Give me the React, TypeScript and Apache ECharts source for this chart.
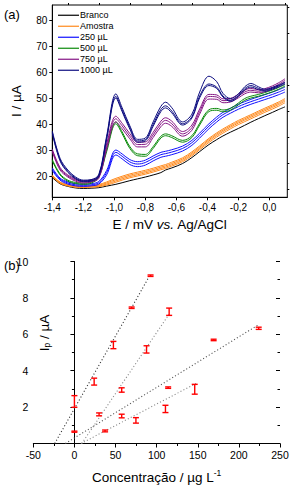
import React, { useEffect, useRef } from 'react';
import * as echarts from 'echarts';

// ---------- Panel (a): voltammograms ----------
const potentials = [-1.4, -1.35, -1.3, -1.25, -1.2, -1.15, -1.1, -1.05, -0.99, -0.95, -0.9, -0.85, -0.8, -0.75, -0.7, -0.67, -0.63, -0.56, -0.5, -0.45, -0.39, -0.34, -0.3, -0.25, -0.2, -0.16, -0.12, -0.07, -0.03, 0.02, 0.06, 0.1];

const branco = [19.6, 17.2, 16.2, 15.6, 15.4, 15.5, 15.7, 16.3, 17.0, 17.6, 18.4, 19.1, 19.8, 20.6, 21.5, 22.5, 23.3, 25.0, 27.3, 29.6, 32.3, 34.2, 35.6, 37.1, 38.5, 39.7, 40.9, 42.3, 43.4, 44.7, 45.8, 46.8];

const amostra1 = [20.0, 17.4, 16.4, 15.9, 15.8, 15.9, 16.1, 16.7, 17.8, 18.6, 19.5, 20.2, 20.9, 21.7, 22.6, 23.1, 24.0, 25.7, 28.0, 30.3, 33.1, 35.2, 36.7, 38.4, 40.0, 41.1, 42.2, 43.6, 44.7, 46.0, 47.1, 48.4];
const amostra2 = [20.1, 17.5, 16.5, 16.0, 15.9, 16.0, 16.3, 17.1, 18.3, 19.1, 20.0, 20.7, 21.4, 22.2, 23.1, 23.6, 24.5, 26.2, 28.5, 30.8, 33.7, 35.8, 37.3, 39.0, 40.6, 41.7, 42.8, 44.2, 45.3, 46.6, 47.7, 49.0];
const amostra3 = [20.3, 17.7, 16.7, 16.2, 16.1, 16.2, 16.6, 17.5, 18.8, 19.6, 20.5, 21.2, 21.9, 22.7, 23.6, 24.1, 25.0, 26.7, 29.0, 31.3, 34.2, 36.3, 37.8, 39.5, 41.1, 42.2, 43.3, 44.7, 45.8, 47.1, 48.2, 49.5];
const amostra4 = [20.5, 17.9, 16.9, 16.4, 16.3, 16.4, 16.9, 17.9, 19.3, 20.1, 21.0, 21.7, 22.4, 23.2, 24.1, 24.6, 25.5, 27.2, 29.5, 31.8, 34.7, 36.8, 38.3, 40.0, 41.6, 42.7, 43.8, 45.2, 46.3, 47.6, 48.7, 50.0];

const ul250a = [22.3, 18.6, 17.1, 16.4, 16.2, 16.4, 17.1, 20.6, 28.3, 26.8, 24.6, 23.8, 24.4, 26.0, 27.4, 27.8, 28.4, 29.8, 32.0, 34.8, 38.4, 41.0, 42.8, 44.4, 45.9, 46.9, 47.8, 48.8, 49.6, 50.6, 51.5, 52.5];
const ul250b = [22.8, 19.0, 17.5, 16.8, 16.6, 16.8, 17.6, 21.5, 29.3, 27.8, 25.6, 24.8, 25.4, 27.0, 28.4, 28.8, 29.4, 30.8, 33.0, 35.8, 39.4, 42.0, 43.8, 45.4, 46.9, 47.9, 48.8, 49.8, 50.6, 51.6, 52.5, 53.5];
const ul250c = [23.3, 19.4, 17.9, 17.2, 17.0, 17.2, 18.1, 22.3, 30.2, 28.7, 26.5, 25.7, 26.3, 27.9, 29.3, 29.7, 30.3, 31.7, 33.9, 36.7, 40.3, 42.9, 44.7, 46.3, 47.8, 48.8, 49.7, 50.7, 51.5, 52.5, 53.4, 54.4];

const ul500a = [26.0, 20.6, 18.2, 17.3, 17.0, 17.4, 19.8, 29.5, 40.3, 36.5, 30.8, 28.0, 27.8, 30.8, 34.8, 35.7, 35.0, 33.2, 35.0, 39.8, 45.0, 45.5, 44.9, 45.6, 47.6, 49.3, 50.2, 50.9, 51.6, 52.6, 53.6, 54.8];
const ul500b = [26.5, 21.0, 18.6, 17.7, 17.4, 17.8, 20.4, 30.3, 41.0, 37.2, 31.5, 28.7, 28.5, 31.5, 35.5, 36.4, 35.7, 33.9, 35.7, 40.5, 45.7, 46.2, 45.6, 46.3, 48.3, 50.0, 50.9, 51.6, 52.3, 53.3, 54.3, 55.4];

const ul750a = [29.5, 22.5, 19.8, 18.2, 17.5, 17.9, 19.3, 30.5, 41.0, 38.4, 34.5, 31.4, 31.4, 35.0, 39.2, 40.5, 39.3, 35.5, 37.8, 44.0, 49.8, 49.7, 48.4, 48.7, 50.3, 51.8, 52.5, 52.2, 52.6, 53.7, 54.9, 56.4];
const ul750b = [30.0, 23.0, 20.2, 18.6, 17.9, 18.3, 19.8, 31.5, 42.2, 39.5, 35.5, 32.3, 32.4, 36.0, 40.3, 41.6, 40.3, 36.4, 38.8, 45.0, 50.8, 50.6, 49.2, 49.4, 51.0, 52.5, 53.2, 52.8, 53.2, 54.3, 55.5, 57.0];
const ul750c = [30.5, 23.5, 20.6, 19.0, 18.3, 18.7, 20.3, 32.5, 43.2, 40.5, 36.5, 33.2, 33.3, 37.0, 41.3, 42.6, 41.3, 37.3, 39.8, 46.0, 51.6, 51.4, 49.9, 50.1, 51.7, 53.2, 53.9, 53.4, 53.8, 54.9, 56.1, 57.6];

const ul1000a = [37.5, 27.0, 22.5, 19.8, 18.6, 18.8, 20.8, 35.5, 51.8, 46.5, 39.5, 34.3, 34.8, 41.0, 47.0, 48.6, 46.5, 41.0, 44.0, 52.5, 58.6, 56.5, 52.0, 50.0, 51.8, 54.5, 55.8, 54.5, 53.6, 54.3, 55.2, 56.3];
const ul1000b = [37.0, 26.5, 22.0, 19.4, 18.3, 18.5, 20.4, 34.8, 50.8, 45.6, 38.8, 33.7, 34.2, 40.0, 45.8, 47.2, 45.2, 40.3, 43.0, 51.0, 55.6, 54.4, 51.0, 49.3, 51.2, 53.8, 55.0, 53.9, 53.2, 54.0, 54.9, 56.0];
const ul1000c = [36.5, 26.0, 21.6, 19.1, 18.0, 18.2, 20.0, 34.2, 50.2, 45.0, 38.2, 33.2, 33.7, 39.3, 45.0, 46.4, 44.5, 39.8, 42.5, 50.3, 55.0, 53.9, 50.6, 48.9, 50.8, 53.3, 54.4, 53.4, 52.8, 53.6, 54.5, 55.6];

const legendNames = ['Branco', 'Amostra', '250 µL', '500 µL', '750 µL', '1000 µL'];
const groupColors = ['#000000', '#ff8a1c', '#1010ff', '#0a8a0a', '#851485', '#0c0c80'];
const groupCurves = [
  [branco],
  [amostra1, amostra2, amostra3, amostra4],
  [ul250a, ul250b, ul250c],
  [ul500a, ul500b],
  [ul750a, ul750b, ul750c],
  [ul1000a, ul1000b, ul1000c],
];

const eTicks = [-1.4, -1.2, -1.0, -0.8, -0.6, -0.4, -0.2, 0.0];
const eMinorTicks = [-1.3, -1.1, -0.9, -0.7, -0.5, -0.3, -0.1, 0.1];
const iTicks = [20, 30, 40, 50, 60, 70, 80];
const iMinorTicks = [15, 25, 35, 45, 55, 65, 75, 85];

const peakNames = ['Zn', 'Cd', 'Pb', 'Cu'];
const peakE = [-0.985, -0.673, -0.376, -0.118];
const peakI = [53.9, 51.3, 60.6, 58.4];

// ---------- Panel (b): calibration ----------
const cuConc = [0, 24, 47.4, 69.6, 92.6];
const cuIp = [2.31, 3.4, 5.41, 7.46, 9.22];
const cuErr = [0.32, 0.19, 0.2, 0.04, 0.04];

const cdConc = [30, 57.5, 87.7, 115.2];
const cdIp = [1.6, 2.94, 5.17, 7.24];
const cdErr = [0.08, 0.12, 0.2, 0.2];

const znConc = [0, 57.5, 114, 169.3, 224.1];
const znIp = [0.65, 1.51, 3.07, 5.69, 6.33];
const znErr = [0.03, 0.1, 0.04, 0.04, 0.06];

const pbConc = [37.3, 74.8, 110.7, 146.3];
const pbIp = [0.69, 1.27, 1.9, 2.98];
const pbErr = [0.05, 0.15, 0.2, 0.27];

const fitCu = [[-24, 0], [90, 9.1]];
const fitCd = [[9, 0], [115, 7.1]];
const fitZn = [[-11, 0], [223, 6.5]];
const fitPb = [[8, 0], [148, 3.3]];

const metalNames = ['Cu', 'Cd', 'Zn', 'Pb'];
const metalLabelX = [101.5, 129, 239, 164.4];
const metalLabelY = [9.71, 7.77, 6.75, 3.05];

const FONT = 'Liberation Sans, Arial, Helvetica, sans-serif';

function buildOption(): any {
  const series: any[] = [];
  groupCurves.forEach((curves, gi) => {
    curves.forEach((vals) => {
      series.push({
        type: 'line',
        name: legendNames[gi],
        xAxisIndex: 0,
        yAxisIndex: 0,
        data: potentials.map((e, i) => [e, vals[i]]),
        symbol: 'none',
        smooth: 0.35,
        color: groupColors[gi],
        lineStyle: { width: 1, color: groupColors[gi] },
        emphasis: { disabled: true },
      });
    });
  });
  series.push({
    type: 'scatter',
    xAxisIndex: 0,
    yAxisIndex: 0,
    symbolSize: 1,
    itemStyle: { opacity: 0 },
    data: peakNames.map((n, i) => ({ value: [peakE[i], peakI[i]], name: n })),
    label: { show: true, position: 'inside', formatter: '{b}', color: '#000', fontSize: 8.5, fontFamily: FONT },
    silent: true,
  });

  const errSeries = (conc: number[], ip: number[], err: number[]) => ({
    type: 'custom',
    xAxisIndex: 2,
    yAxisIndex: 2,
    data: conc.map((c, i) => [c, ip[i], err[i]]),
    encode: { x: 0, y: 1 },
    z: 5,
    renderItem: (_p: any, api: any) => {
      const x = api.value(0);
      const y = api.value(1);
      const e = api.value(2);
      const top = api.coord([x, y + e]);
      const bot = api.coord([x, y - e]);
      const hw = 3;
      const style = { stroke: '#ff0000', lineWidth: 1.4, fill: 'none' };
      return {
        type: 'group',
        children: [
          { type: 'line', shape: { x1: top[0], y1: top[1], x2: bot[0], y2: bot[1] }, style },
          { type: 'line', shape: { x1: top[0] - hw, y1: top[1], x2: top[0] + hw, y2: top[1] }, style },
          { type: 'line', shape: { x1: bot[0] - hw, y1: bot[1], x2: bot[0] + hw, y2: bot[1] }, style },
        ],
      };
    },
  });
  const fitSeries = (pts: number[][], color: string) => ({
    type: 'line',
    xAxisIndex: 2,
    yAxisIndex: 2,
    data: pts,
    symbol: 'none',
    lineStyle: { width: 1.1, color, type: [1.1, 2.2] },
    silent: true,
  });
  series.push(fitSeries(fitCu, '#333333'));
  series.push(fitSeries(fitCd, '#8a8a8a'));
  series.push(fitSeries(fitZn, '#555555'));
  series.push(fitSeries(fitPb, '#8a8a8a'));
  series.push(errSeries(cuConc, cuIp, cuErr));
  series.push(errSeries(cdConc, cdIp, cdErr));
  series.push(errSeries(znConc, znIp, znErr));
  series.push(errSeries(pbConc, pbIp, pbErr));
  series.push({
    type: 'scatter',
    xAxisIndex: 2,
    yAxisIndex: 2,
    symbolSize: 1,
    itemStyle: { opacity: 0 },
    data: metalNames.map((n, i) => ({ value: [metalLabelX[i], metalLabelY[i]], name: n })),
    label: { show: true, position: 'inside', formatter: '{b}', color: '#000', fontSize: 10.5, fontFamily: FONT },
    silent: true,
  });

  const axisLabelBase = { color: '#000', fontSize: 10, fontFamily: FONT };
  const lineBase = { lineStyle: { color: '#000', width: 1 } };

  return {
    animation: false,
    backgroundColor: '#fff',
    textStyle: { fontFamily: FONT },
    grid: [
      { left: 52.3, top: 5, width: 235, height: 192.3, show: true, borderColor: '#000', borderWidth: 1, backgroundColor: 'transparent', containLabel: false, outerBoundsMode: 'none' },
      { left: 33.3, top: 261.5, width: 246.7, height: 182, containLabel: false, outerBoundsMode: 'none' },
    ],
    legend: {
      orient: 'vertical',
      left: 58,
      top: 10,
      padding: 0,
      itemGap: 0.5,
      itemWidth: 21,
      itemHeight: 1.2,
      icon: 'rect',
      data: legendNames,
      textStyle: { fontSize: 9, color: '#000', fontFamily: FONT, padding: [0, 0, 0, -4], lineHeight: 10.5 },
      selectedMode: false,
    },
    xAxis: [
      {
        gridIndex: 0, type: 'value', min: -1.4, max: 0.115,
        axisLine: { onZero: false, ...lineBase },
        axisTick: { length: 3, customValues: eTicks, lineStyle: { color: '#000' } },
        axisLabel: { ...axisLabelBase, margin: 5, customValues: eTicks, formatter: (v: number) => v.toFixed(1).replace('.', ',') },
        splitLine: { show: false },
        name: '{n|E / mV }{i|vs.}{n| Ag/AgCl}',
        nameLocation: 'middle',
        nameGap: 20,
        nameTextStyle: { rich: { n: { fontSize: 13.5, color: '#000', fontFamily: FONT }, i: { fontSize: 13.5, fontStyle: 'italic', color: '#000', fontFamily: FONT } } },
      },
      {
        gridIndex: 0, type: 'value', min: -1.4, max: 0.115,
        axisLine: { show: false, onZero: false },
        axisTick: { length: 2, customValues: eMinorTicks, lineStyle: { color: '#000' } },
        axisLabel: { show: false },
        splitLine: { show: false },
      },
      {
        gridIndex: 1, type: 'value', min: -50, max: 250, interval: 50,
        axisLine: { onZero: true, ...lineBase },
        axisTick: { length: 4, lineStyle: { color: '#000' } },
        minorTick: { show: true, splitNumber: 2, length: 2.5, lineStyle: { color: '#000' } },
        axisLabel: { ...axisLabelBase, fontSize: 10.5, margin: 6 },
        splitLine: { show: false },
        name: '{n|Concentração / µg L}{s|-1}',
        nameLocation: 'middle',
        nameGap: 25,
        nameTextStyle: { rich: { n: { fontSize: 13.5, color: '#000', fontFamily: FONT }, s: { fontSize: 8.5, color: '#000', fontFamily: FONT, padding: [0, 0, 9, 0] } } },
      },
    ],
    yAxis: [
      {
        gridIndex: 0, type: 'value', min: 12, max: 86,
        axisLine: { onZero: false, ...lineBase },
        axisTick: { length: 3, customValues: iTicks, lineStyle: { color: '#000' } },
        axisLabel: { ...axisLabelBase, margin: 5, customValues: iTicks },
        splitLine: { show: false },
        name: 'I / µA',
        nameLocation: 'middle',
        nameRotate: 90,
        nameGap: 29,
        nameTextStyle: { fontSize: 13.5, color: '#000', fontFamily: FONT },
      },
      {
        gridIndex: 0, type: 'value', min: 12, max: 86,
        axisLine: { show: false, onZero: false },
        axisTick: { length: 2, customValues: iMinorTicks, lineStyle: { color: '#000' } },
        axisLabel: { show: false },
        splitLine: { show: false },
      },
      {
        gridIndex: 1, type: 'value', min: 0, max: 10, interval: 2,
        axisLine: { onZero: true, ...lineBase },
        axisTick: { length: 4, lineStyle: { color: '#000' } },
        minorTick: { show: true, splitNumber: 2, length: 2.5, lineStyle: { color: '#000' } },
        axisLabel: { ...axisLabelBase, fontSize: 10.5, margin: 5, showMinLabel: false },
        splitLine: { show: false },
      },
      {
        gridIndex: 1, type: 'value', min: 0, max: 10, interval: 2,
        axisLine: { show: false, onZero: true },
        axisTick: { inside: true, length: 4, lineStyle: { color: '#000' } },
        minorTick: { show: true, splitNumber: 2, length: 2.5, lineStyle: { color: '#000' } },
        axisLabel: { show: false },
        splitLine: { show: false },
      },
    ],
    graphic: [
      { type: 'text', left: 4, top: 8, style: { text: '(a)', fontSize: 13, fill: '#000', fontFamily: FONT } },
      { type: 'text', left: 4, top: 259, style: { text: '(b)', fontSize: 13, fill: '#000', fontFamily: FONT } },
      {
        type: 'text',
        x: 44,
        y: 333,
        rotation: Math.PI / 2,
        style: {
          text: '{n|I}{s|p}{n| / µA}',
          align: 'center',
          verticalAlign: 'middle',
          rich: {
            n: { fontSize: 13.5, fill: '#000', fontFamily: FONT },
            s: { fontSize: 8.5, fill: '#000', fontFamily: FONT, padding: [6, 0, 0, 0] },
          },
        },
      },
    ],
    series,
  };
}

export default function App() {
  const ref = useRef<HTMLDivElement>(null);
  useEffect(() => {
    if (!ref.current) return;
    const chart = echarts.init(ref.current, null, { renderer: 'svg' });
    chart.setOption(buildOption());
    return () => chart.dispose();
  }, []);
  return (
    <div
      ref={ref}
      style={{ position: 'fixed', left: 0, top: 0, width: 292, height: 490, background: '#fff' }}
    />
  );
}
